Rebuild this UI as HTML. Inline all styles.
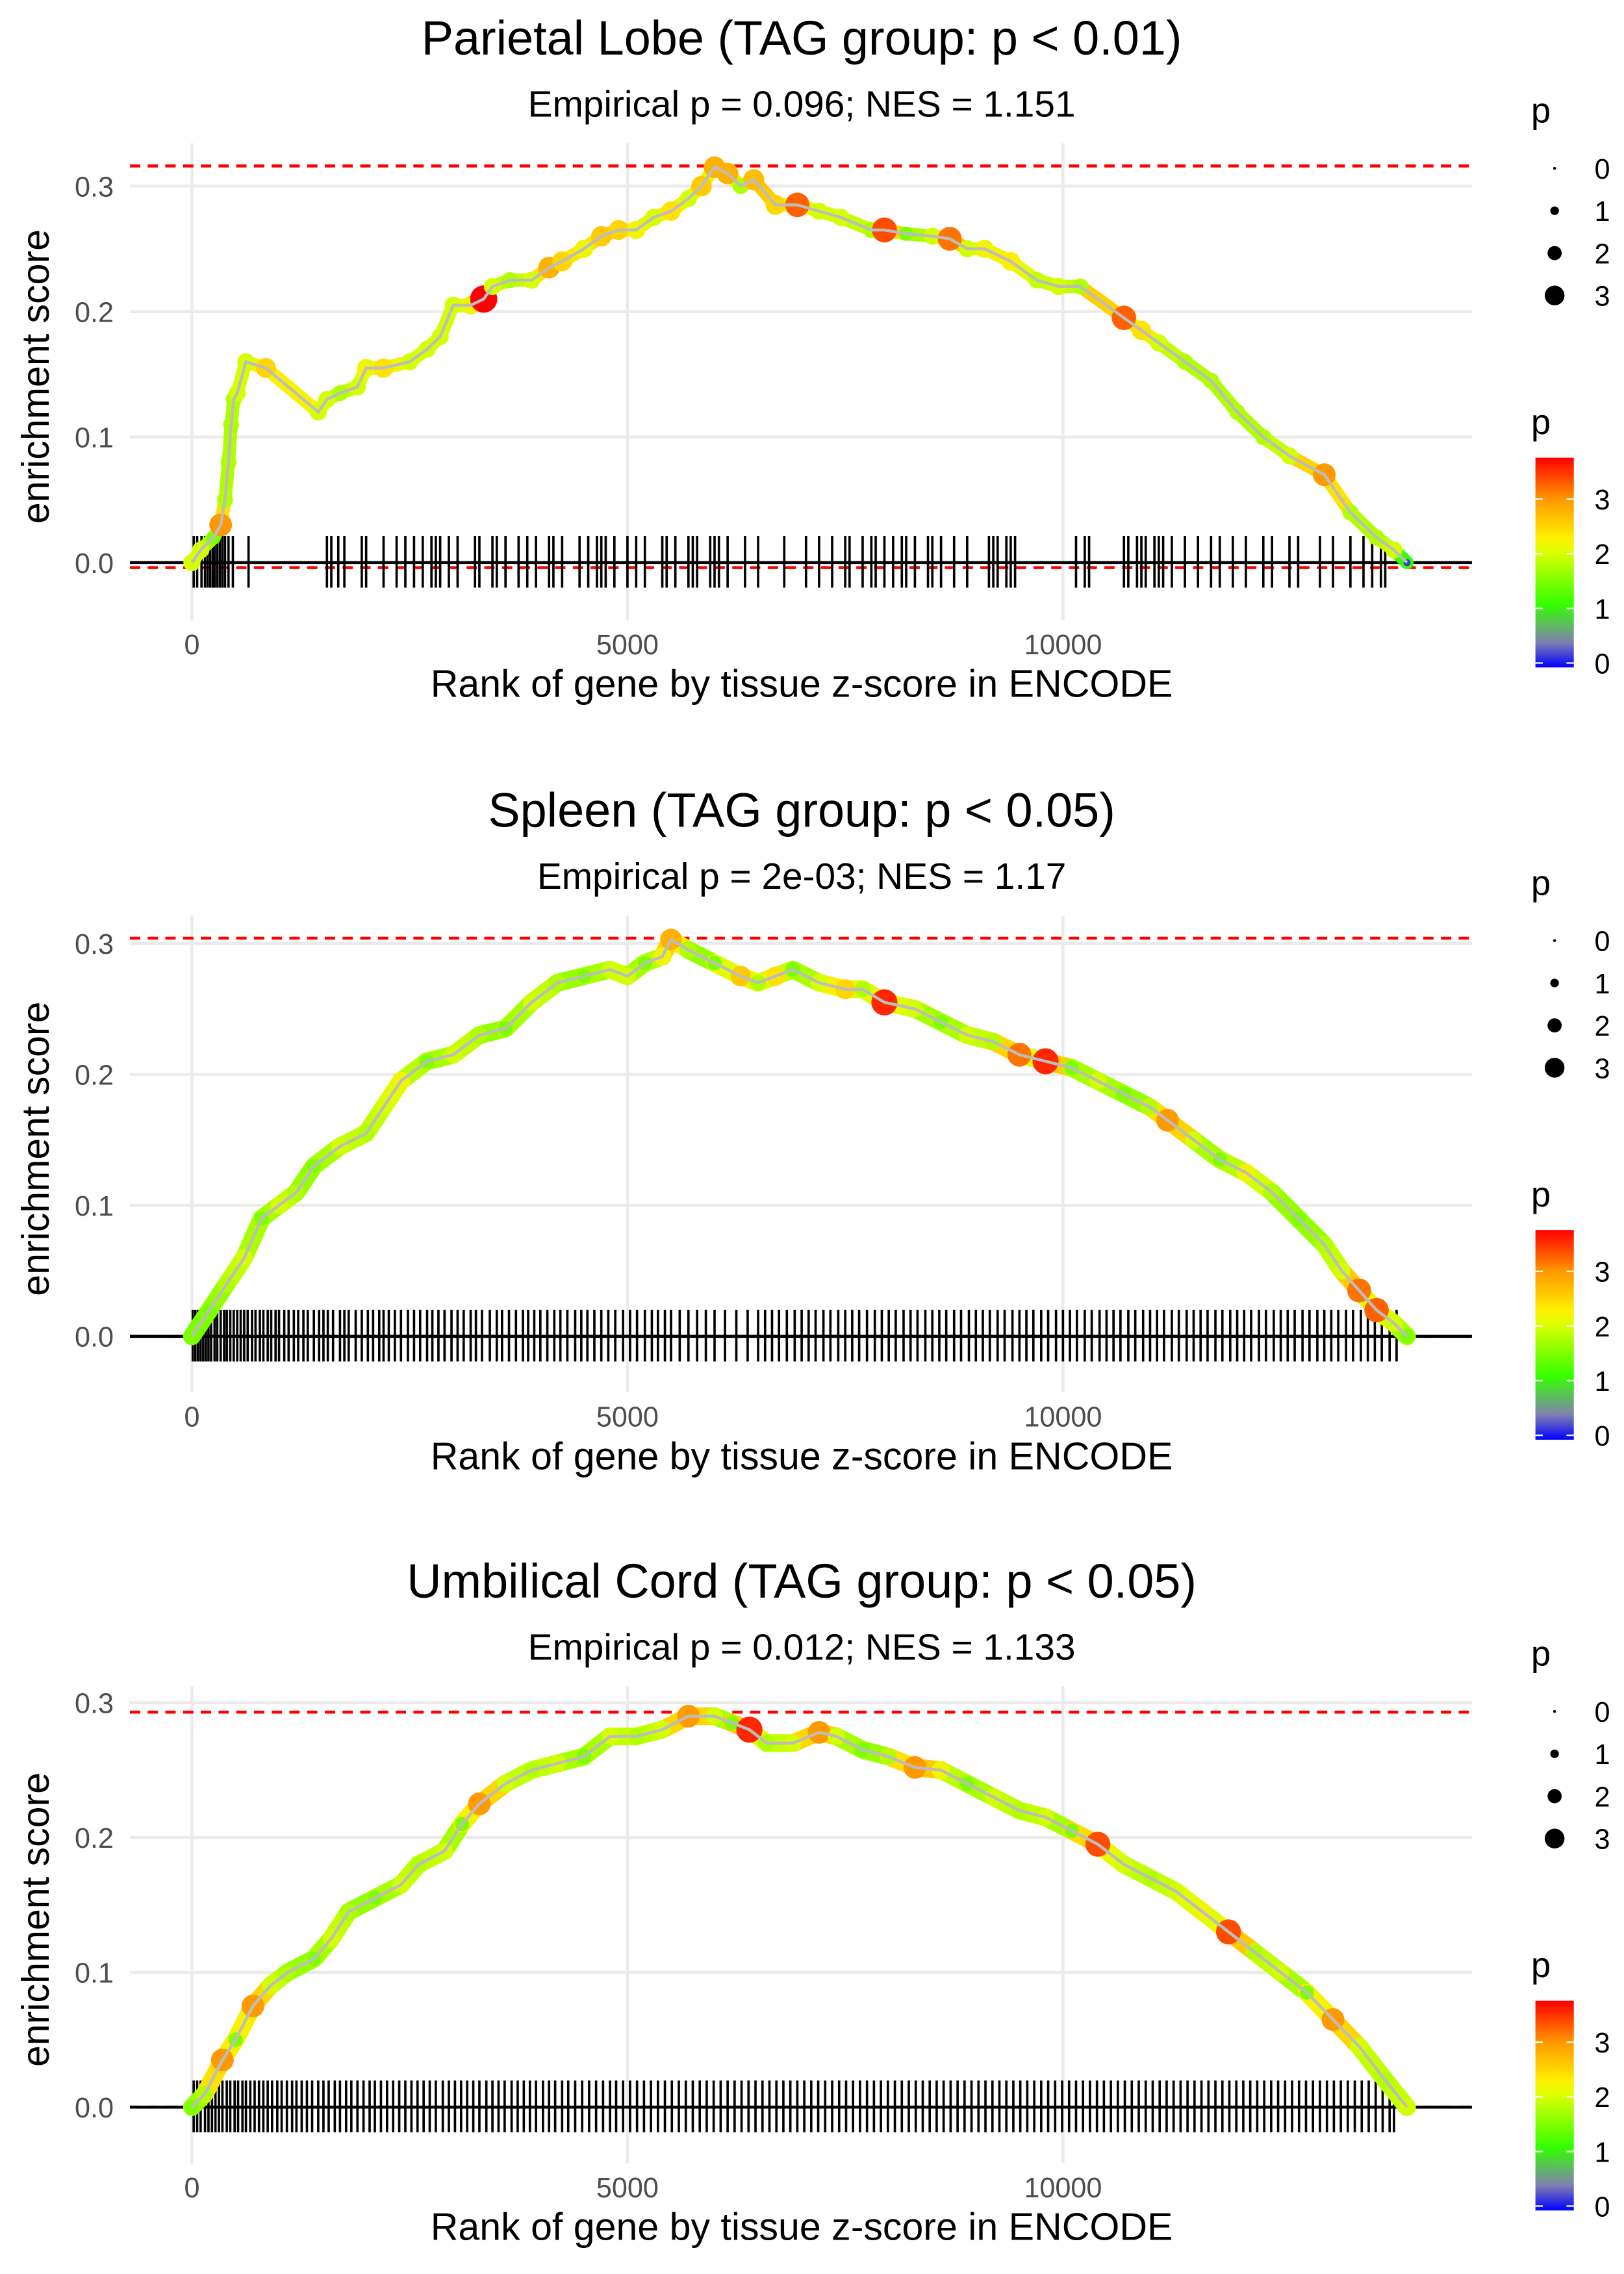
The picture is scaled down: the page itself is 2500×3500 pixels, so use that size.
<!DOCTYPE html>
<html><head><meta charset="utf-8"><style>
html,body{margin:0;padding:0;background:#fff;}
svg{display:block;font-family:"Liberation Sans",sans-serif;}
</style></head><body>
<svg id="chart" width="2500" height="3500" viewBox="0 0 1100 1540" xmlns="http://www.w3.org/2000/svg">
<defs>
<linearGradient id="pgrad" x1="0" y1="1" x2="0" y2="0">
<stop offset="0" stop-color="#0000ff"/><stop offset="0.12" stop-color="#8080b0"/><stop offset="0.3" stop-color="#33ff00"/><stop offset="0.55" stop-color="#ddff00"/><stop offset="0.62" stop-color="#ffee00"/><stop offset="0.8" stop-color="#ff9900"/><stop offset="1" stop-color="#ff0000"/>
</linearGradient>
</defs>
</svg>
<script>
// Panel 1: Parietal Lobe
const p1Ranks=[0,100,250,330,380,420,450,480,520,620,850,1450,1550,1700,1900,2000,2200,2500,2700,2850,3000,3200,3350,3450,3650,3900,4100,4250,4500,4700,4900,5100,5300,5500,5700,5850,6000,6150,6300,6450,6700,6950,7200,7450,7800,7950,8200,8500,8700,8900,9100,9400,9700,9950,10200,10700,10900,11100,11400,11700,12000,12300,12600,13000,13300,13600,13800,13950];
const p1ES=[0,0.01,0.02,0.03,0.05,0.08,0.11,0.13,0.135,0.16,0.155,0.12,0.13,0.135,0.14,0.155,0.155,0.16,0.17,0.18,0.205,0.205,0.21,0.22,0.225,0.225,0.235,0.24,0.25,0.26,0.265,0.265,0.275,0.28,0.29,0.3,0.315,0.31,0.3,0.305,0.285,0.285,0.28,0.275,0.265,0.265,0.262,0.26,0.258,0.25,0.25,0.24,0.225,0.22,0.22,0.195,0.185,0.175,0.16,0.145,0.12,0.1,0.085,0.07,0.04,0.02,0.01,0];
const p1P=[2,2,1.5,3,1.8,1.8,1.8,1.8,2,2,2.5,2,2,1.8,2,2.2,2.4,2,2,2,2,2.2,3.8,2,1.8,2,2.8,2.5,2.2,2.6,2.5,2.2,2,2.4,2,2.6,2.8,2.8,1.8,2.7,2.5,3.3,2,2,1.8,3.4,1.5,2,3.2,2,2.2,2.3,1.9,2,1.8,3.3,2.4,2,1.8,1.8,1.8,1.8,2,3,1.8,1.8,2,0.2];
const p1Rug=[20,60,110,150,180,210,240,260,290,320,350,380,420,470,650,1550,1600,1680,1750,1950,2000,2200,2350,2450,2550,2650,2750,2800,2850,2950,3050,3250,3300,3450,3500,3600,3750,3850,3950,4100,4150,4250,4450,4550,4650,4700,4750,4850,5000,5100,5200,5400,5450,5550,5700,5750,5800,5950,6000,6050,6150,6350,6500,6800,7050,7200,7350,7500,7550,7700,7800,7850,7950,8050,8150,8200,8300,8450,8500,8600,8750,8900,9150,9200,9250,9350,9400,9450,10150,10250,10300,10700,10750,10850,10900,10950,11050,11100,11150,11250,11400,11550,11700,11800,11950,12100,12300,12400,12600,12700,12950,13100,13300,13450,13550,13650,13700];
// Panel 2: Spleen
const p2Ranks=[0,200,400,600,800,1000,1200,1400,1700,2000,2200,2400,2700,3000,3300,3600,3900,4200,4500,4800,5000,5200,5400,5500,5700,6000,6300,6500,6700,6900,7200,7500,7700,7950,8300,8600,8900,9200,9500,9800,10100,10400,10700,11000,11200,11500,11800,12100,12400,12700,13000,13200,13400,13600,13800,13950];
const p2ES=[0,0.02,0.04,0.06,0.09,0.1,0.11,0.13,0.145,0.155,0.175,0.195,0.21,0.215,0.23,0.235,0.255,0.27,0.275,0.28,0.275,0.285,0.29,0.303,0.295,0.285,0.275,0.27,0.275,0.28,0.27,0.265,0.265,0.255,0.25,0.24,0.23,0.225,0.215,0.21,0.205,0.195,0.185,0.175,0.165,0.15,0.135,0.125,0.11,0.09,0.07,0.05,0.035,0.02,0.01,0];
const p2P=[1.5,1.5,1.8,2,1.5,2,1.8,1.5,2,1.8,2,2.2,1.5,2,1.8,1.5,2,1.8,1.5,2,2,1.5,2.2,2.8,1.8,1.5,2.6,1.8,2.4,1.5,2,2.5,1.8,3.6,2,1.5,2,1.8,3.2,3.6,1.5,2,1.5,1.8,3,2,1.5,2.2,1.8,1.5,1.8,2,3.2,3.3,2,1.5];
const p2Rug=[10,40,70,100,130,160,190,220,260,290,330,370,400,440,480,520,560,600,640,690,730,780,820,870,910,960,1000,1060,1110,1170,1220,1280,1330,1400,1460,1510,1560,1620,1700,1750,1800,1880,1950,2020,2080,2150,2200,2260,2330,2400,2480,2550,2620,2700,2760,2830,2900,2980,3050,3120,3200,3260,3330,3420,3500,3560,3640,3720,3800,3860,3930,4000,4080,4160,4230,4310,4400,4470,4540,4620,4700,4780,4860,4950,5030,5110,5200,5280,5350,5430,5500,5600,5700,5800,5900,6000,6120,6250,6380,6500,6580,6660,6740,6830,6920,7000,7080,7160,7250,7330,7420,7500,7580,7660,7750,7840,7920,8000,8080,8170,8250,8330,8420,8500,8580,8660,8750,8830,8920,9000,9080,9160,9250,9330,9420,9500,9580,9660,9750,9830,9920,10000,10080,10160,10250,10330,10420,10500,10580,10660,10750,10830,10920,11000,11080,11160,11250,11330,11420,11500,11580,11660,11750,11830,11920,12000,12080,12160,12250,12330,12420,12500,12580,12660,12750,12830,12920,13000,13080,13160,13250,13330,13420,13500,13580,13660,13750,13830];
// Panel 3: Umbilical Cord
const p3Ranks=[0,150,350,500,700,900,1100,1400,1600,1800,2100,2400,2600,2900,3100,3300,3600,3900,4200,4500,4800,5100,5400,5700,6000,6200,6400,6600,6900,7200,7400,7700,8000,8300,8600,8900,9200,9500,9800,10100,10400,10700,11000,11300,11600,11900,12200,12500,12800,13100,13400,13700,13950];
const p3ES=[0,0.01,0.035,0.05,0.075,0.09,0.1,0.11,0.125,0.145,0.155,0.165,0.18,0.19,0.21,0.225,0.24,0.25,0.255,0.26,0.275,0.275,0.28,0.29,0.29,0.285,0.28,0.27,0.27,0.278,0.275,0.265,0.26,0.252,0.25,0.24,0.23,0.22,0.215,0.205,0.195,0.18,0.17,0.16,0.145,0.13,0.115,0.1,0.085,0.065,0.045,0.02,0];
const p3P=[1.5,1.8,3,1.5,3,2,1.8,1.5,2,1.8,1.5,2,1.8,2,1.5,3,2,1.8,2,1.5,2,1.8,2,3,2,1.5,3.6,1.8,2,3,2,1.5,1.8,3,2.2,1.5,2,1.8,2,1.5,3.4,2,1.8,2,2.2,3.4,1.8,2,1.5,3,2,1.8,2];
const p3Rug=[20,60,100,150,190,230,270,310,350,400,440,490,530,580,620,670,720,770,820,870,920,980,1030,1090,1150,1200,1260,1320,1380,1450,1510,1570,1640,1700,1770,1830,1900,1970,2040,2100,2170,2240,2310,2380,2450,2520,2590,2660,2730,2800,2880,2950,3020,3090,3160,3230,3300,3380,3450,3520,3590,3670,3740,3810,3880,3950,4030,4100,4170,4250,4320,4400,4480,4560,4640,4720,4800,4870,4950,5030,5110,5190,5270,5350,5430,5510,5590,5670,5750,5830,5910,5990,6070,6150,6230,6310,6390,6470,6550,6630,6710,6790,6870,6950,7030,7110,7190,7270,7350,7430,7510,7590,7670,7750,7830,7910,7990,8070,8150,8230,8310,8390,8470,8550,8630,8710,8790,8870,8950,9030,9110,9190,9270,9350,9430,9510,9590,9670,9750,9830,9910,9990,10070,10150,10230,10310,10390,10470,10550,10630,10710,10790,10870,10950,11030,11110,11190,11270,11350,11430,11510,11590,11670,11750,11830,11910,11990,12070,12150,12230,12310,12390,12470,12550,12630,12710,12790,12870,12950,13030,13110,13190,13270,13350,13430,13510,13590,13670,13750,13800];
const xTicks=[0,5000,10000];
const yTicks=[0,0.1,0.2,0.3];
const sizeLegend=[0,1,2,3];
const colorLegend=[3,2,1,0];

const titles=["Parietal Lobe (TAG group: p < 0.01)","Spleen (TAG group: p < 0.05)","Umbilical Cord (TAG group: p < 0.05)"];
const subtitles=["Empirical p = 0.096; NES = 1.151","Empirical p = 2e-03; NES = 1.17","Empirical p = 0.012; NES = 1.133"];
const maxES=[0.316,0.304,0.293];
const minES=[-0.004,0,0];

const panels=[
 {ranks:p1Ranks,es:p1ES,p:p1P,rug:p1Rug,off:0,zero:381,k:850,bw:9},
 {ranks:p2Ranks,es:p2ES,p:p2P,rug:p2Rug,off:523,zero:905,k:887,bw:12},
 {ranks:p3Ranks,es:p3ES,p:p3P,rug:p3Rug,off:1045,zero:1427,k:913,bw:12}
];
const svg=document.getElementById('chart');
const NS='http://www.w3.org/2000/svg';
function mk(tag,attrs,parent){const e=document.createElementNS(NS,tag);for(const k in attrs)e.setAttribute(k,attrs[k]);(parent||svg).appendChild(e);return e;}
function xs(r){return 130+r*0.059;}
const cStops=[[0,[0,0,255]],[0.45,[128,128,176]],[1.1,[51,255,0]],[2.05,[221,255,0]],[2.3,[255,238,0]],[3,[255,153,0]],[3.8,[255,0,0]]];
function pColor(v){v=Math.max(0,Math.min(3.8,v));for(let i=1;i<cStops.length;i++){if(v<=cStops[i][0]){const a=cStops[i-1],b=cStops[i];const t=(v-a[0])/(b[0]-a[0]);const c=a[1].map((x,j)=>Math.round(x+(b[1][j]-x)*t));return 'rgb('+c.join(',')+')';}}return 'rgb(255,0,0)';}
function pR(v){return 2+1.9*v;}

panels.forEach((P,i)=>{
 const o=P.off;
 const ys=v=>P.zero-v*P.k;
 const g=mk('g',{});
 
 
 const t=mk('text',{x:543,y:37+o,'font-size':32.5,'text-anchor':'middle',fill:'#000'},g);t.textContent=titles[i];
 
 
 const st=mk('text',{x:543,y:79+o,'font-size':25,'text-anchor':'middle',fill:'#000'},g);st.textContent=subtitles[i];
 
 
 yTicks.forEach(v=>{const l=mk('line',{x1:88,x2:997,y1:ys(v),y2:ys(v),stroke:'#ebebeb','stroke-width':2},g);
  
  
  const tl=mk('text',{x:77,y:ys(v)+7,'font-size':19,'text-anchor':'end',fill:'#4d4d4d'},g);tl.textContent=v.toFixed(1);
  
  });
 xTicks.forEach(v=>{const l=mk('line',{x1:xs(v),x2:xs(v),y1:97+o,y2:420+o,stroke:'#ebebeb','stroke-width':2},g);
  
  
  const tl=mk('text',{x:xs(v),y:443+o,'font-size':19,'text-anchor':'middle',fill:'#4d4d4d'},g);tl.textContent=v;
  
  });
 const xt=mk('text',{x:543,y:472+o,'font-size':26,'text-anchor':'middle',fill:'#000'},g);xt.textContent='Rank of gene by tissue z-score in ENCODE';
 
 
 const yt=mk('text',{x:0,y:0,'font-size':26,'text-anchor':'middle',fill:'#000',transform:'translate(33,'+(255+o)+') rotate(-90)'},g);yt.textContent='enrichment score';
 
 
 [maxES[i],minES[i]].forEach(v=>{const l=mk('line',{x1:88,x2:997,y1:ys(v),y2:ys(v),stroke:'#ff0000','stroke-width':2,'stroke-dasharray':'7,5'},g);
  
  });
 P.rug.forEach(r=>{const l=mk('line',{x1:xs(r),x2:xs(r),y1:P.zero-18,y2:P.zero+17,stroke:'#000','stroke-width':1.6},g);
  
  });
 const zl=mk('line',{x1:88,x2:997,y1:P.zero,y2:P.zero,stroke:'#000','stroke-width':2},g);
 
 
 for(let j=1;j<P.ranks.length;j++){const m=(P.p[j-1]+P.p[j])/2;const l=mk('line',{x1:xs(P.ranks[j-1]),y1:ys(P.es[j-1]),x2:xs(P.ranks[j]),y2:ys(P.es[j]),stroke:pColor(m>2.6?2.1:m),'stroke-width':P.bw,'stroke-linecap':'round'},g);
  
  }
 P.ranks.forEach((r,j)=>{const c=mk('circle',{cx:xs(r),cy:ys(P.es[j]),r:pR(P.p[j]),fill:pColor(P.p[j])},g);
  
  });
 const pts=P.ranks.map((r,j)=>xs(r)+','+ys(P.es[j])).join(' ');
 const pl=mk('polyline',{points:pts,fill:'none',stroke:'#bdbdbd','stroke-width':2},g);
 
 
 const lg=mk('g',{},g);
 
 
 const lt=mk('text',{x:1037,y:83+o,'font-size':24,fill:'#000'},lg);lt.textContent='p';
 sizeLegend.forEach((v,j)=>{const cy=114+o+j*28.7;mk('circle',{cx:1053,cy:cy,r:1+1.9*v,fill:'#000'},lg);
  const tx=mk('text',{x:1080,y:cy+7,'font-size':19,fill:'#000'},lg);tx.textContent=v;});
 const cg=mk('g',{},g);
 
 
 const ct=mk('text',{x:1037,y:294+o,'font-size':24,fill:'#000'},cg);ct.textContent='p';
 mk('rect',{x:1040,y:310+o,width:26,height:142,fill:'url(#pgrad)'},cg);
 colorLegend.forEach(v=>{const y=449+o-v*37;mk('line',{x1:1040,x2:1045,y1:y,y2:y,stroke:'#fff','stroke-width':1},cg);mk('line',{x1:1061,x2:1066,y1:y,y2:y,stroke:'#fff','stroke-width':1},cg);
  const tx=mk('text',{x:1080,y:y+7,'font-size':19,fill:'#000'},cg);tx.textContent=v;});
});
</script>
</body></html>
